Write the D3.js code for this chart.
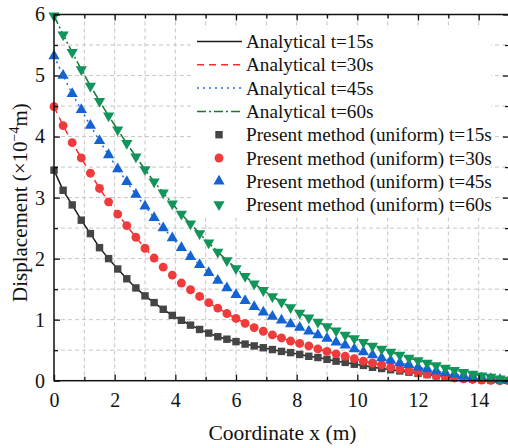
<!DOCTYPE html>
<html>
<head>
<meta charset="utf-8">
<script src="https://cdn.jsdelivr.net/npm/d3@7"></script>
<style>
  html, body { margin: 0; padding: 0; background: #fff; }
  svg { display: block; font-family: "Liberation Serif", "Times New Roman", serif; }
</style>
</head>
<body>
<svg id="chart" width="508" height="448"></svg>
<script>
// Sampling positions along the bar (m)
const xs = d3.range(51).map(i => +(i * 0.3).toFixed(1));

// Displacement (×10^-4 m) at each position, one array per time
const disp15 = [3.45, 3.12, 2.88, 2.63, 2.41, 2.18, 2.00, 1.83, 1.67, 1.52,
                1.39, 1.28, 1.17, 1.07, 0.99, 0.91, 0.84, 0.78, 0.72, 0.68,
                0.64, 0.60, 0.57, 0.54, 0.51, 0.48, 0.46, 0.43, 0.40, 0.38,
                0.35, 0.32, 0.30, 0.27, 0.25, 0.22, 0.20, 0.18, 0.16, 0.14,
                0.12, 0.10, 0.08, 0.065, 0.05, 0.04, 0.03, 0.02, 0.01, 0.005, 0];
const disp30 = [4.49, 4.18, 3.90, 3.65, 3.40, 3.15, 2.93, 2.73, 2.54, 2.35,
                2.17, 2.01, 1.86, 1.73, 1.60, 1.49, 1.38, 1.28, 1.19, 1.10,
                1.02, 0.94, 0.87, 0.81, 0.75, 0.70, 0.65, 0.61, 0.57, 0.52,
                0.48, 0.44, 0.40, 0.36, 0.32, 0.29, 0.26, 0.22, 0.19, 0.16,
                0.13, 0.11, 0.085, 0.065, 0.045, 0.03, 0.02, 0.01, 0.005, 0, 0];
const disp45 = [5.32, 5.00, 4.70, 4.44, 4.18, 3.93, 3.70, 3.47, 3.26, 3.05,
                2.86, 2.67, 2.50, 2.34, 2.18, 2.03, 1.90, 1.77, 1.64, 1.52,
                1.41, 1.31, 1.21, 1.12, 1.05, 0.99, 0.93, 0.87, 0.81, 0.75,
                0.69, 0.63, 0.58, 0.52, 0.47, 0.42, 0.37, 0.33, 0.29, 0.26,
                0.22, 0.19, 0.16, 0.13, 0.105, 0.08, 0.06, 0.045, 0.03, 0.015, 0];
const disp60 = [5.98, 5.67, 5.38, 5.10, 4.83, 4.58, 4.34, 4.11, 3.89, 3.67,
                3.46, 3.26, 3.08, 2.90, 2.73, 2.57, 2.41, 2.26, 2.11, 1.97,
                1.84, 1.71, 1.59, 1.48, 1.38, 1.29, 1.20, 1.11, 1.03, 0.96,
                0.89, 0.82, 0.75, 0.69, 0.63, 0.57, 0.52, 0.47, 0.42, 0.37,
                0.33, 0.29, 0.25, 0.21, 0.17, 0.14, 0.11, 0.08, 0.06, 0.03, 0.01];

const times = ["15", "30", "45", "60"];
const xTicks = [0, 2, 4, 6, 8, 10, 12, 14];
const yTicks = [0, 1, 2, 3, 4, 5, 6];

const seriesValues = [disp15, disp30, disp45, disp60];
const lineColors = ["#1a1a1a", "#ff2a2a", "#1f6fe6", "#137a2e"];
const lineDash = [null, "7,5", "2,4", "9,3,2,3"];
const markColors = ["#454545", "#ef3b3b", "#1463d2", "#12955a"];
const markShapes = [d3.symbolSquare, d3.symbolCircle, d3.symbolTriangle, d3.symbolTriangle];
const markSizes = [55, 62, 55, 55];
const markRotate = [0, 0, 0, 180];

const svg = d3.select("#chart");
const L = 54, R = 509, T = 14.5, B = 380.7;

const x = d3.scaleLinear().domain([0, 15]).range([L, R]);
const y = d3.scaleLinear().domain([0, 6]).range([B, T]);

// Dashed grid: every 1 m horizontally, every 0.5 vertically
const grid = svg.append("g").attr("stroke", "#c6c6c6").attr("stroke-width", 1)
  .attr("stroke-dasharray", "4,3");
grid.selectAll("line.gx").data(d3.range(1, 15)).join("line")
  .attr("x1", d => x(d)).attr("x2", d => x(d)).attr("y1", T).attr("y2", B);
grid.selectAll("line.gy").data(d3.range(0.5, 6, 0.5)).join("line")
  .attr("y1", d => y(d)).attr("y2", d => y(d)).attr("x1", L).attr("x2", R);

// Analytical curves
seriesValues.forEach((vals, i) => {
  svg.append("path")
    .datum(xs.map((xv, k) => [xv, vals[k]]))
    .attr("fill", "none")
    .attr("stroke", lineColors[i])
    .attr("stroke-width", 1.5)
    .attr("stroke-dasharray", lineDash[i])
    .attr("d", d3.line().x(d => x(d[0])).y(d => y(d[1])));
});

// Numerical results as markers
seriesValues.forEach((vals, i) => {
  const sym = d3.symbol().type(markShapes[i]).size(markSizes[i]);
  svg.append("g").selectAll("path").data(xs.map((xv, k) => [xv, vals[k]])).join("path")
    .attr("d", sym)
    .attr("fill", markColors[i])
    .attr("transform", d => `translate(${x(d[0])},${y(d[1])}) rotate(${markRotate[i]})`);
});

// Axes with inward ticks on all four sides
const axisStyle = g => {
  g.select(".domain").remove();
  g.selectAll("text").attr("font-size", 20).attr("fill", "#111")
    .attr("font-family", "Liberation Serif, Times New Roman, serif");
  g.selectAll("line").attr("stroke", "#111").attr("stroke-width", 1.3);
};
const minorX = d3.range(1, 15, 2);
const minorY = d3.range(0.5, 6, 1);
// bottom
svg.append("g").attr("transform", `translate(0,${B})`)
  .call(d3.axisBottom(x).tickValues(xTicks).tickSize(-6).tickPadding(12).tickFormat(d3.format("d")))
  .call(axisStyle);
svg.append("g").attr("transform", `translate(0,${B})`)
  .call(d3.axisBottom(x).tickValues(minorX).tickSize(-4).tickFormat(""))
  .call(axisStyle);
// top
svg.append("g").attr("transform", `translate(0,${T})`)
  .call(d3.axisTop(x).tickValues(xTicks).tickSize(-6).tickFormat(""))
  .call(axisStyle);
svg.append("g").attr("transform", `translate(0,${T})`)
  .call(d3.axisTop(x).tickValues(minorX).tickSize(-4).tickFormat(""))
  .call(axisStyle);
// left
svg.append("g").attr("transform", `translate(${L},0)`)
  .call(d3.axisLeft(y).tickValues(yTicks).tickSize(-6).tickPadding(9).tickFormat(d3.format("d")))
  .call(axisStyle);
svg.append("g").attr("transform", `translate(${L},0)`)
  .call(d3.axisLeft(y).tickValues(minorY).tickSize(-4).tickFormat(""))
  .call(axisStyle);
// right
svg.append("g").attr("transform", `translate(${R},0)`)
  .call(d3.axisRight(y).tickValues(yTicks).tickSize(-6).tickFormat(""))
  .call(axisStyle);
svg.append("g").attr("transform", `translate(${R},0)`)
  .call(d3.axisRight(y).tickValues(minorY).tickSize(-4).tickFormat(""))
  .call(axisStyle);

// Frame
svg.append("rect").attr("x", L).attr("y", T).attr("width", R - L).attr("height", B - T)
  .attr("fill", "none").attr("stroke", "#111").attr("stroke-width", 1.5);

// Axis titles
svg.append("text").attr("x", (L + R) / 2 + 1).attr("y", 440)
  .attr("text-anchor", "middle").attr("font-size", 21.5).attr("fill", "#111")
  .text("Coordinate x (m)");
const yt = svg.append("text")
  .attr("transform", `translate(27,${(T + B) / 2 + 5}) rotate(-90)`)
  .attr("text-anchor", "middle").attr("font-size", 21).attr("fill", "#111");
yt.append("tspan").text("Displacement (×10");
yt.append("tspan").attr("dy", -8).attr("font-size", 14).text("−4");
yt.append("tspan").attr("dy", 8).text("m)");

// Legend
const legend = svg.append("g");
legend.append("rect").attr("x", 193).attr("y", 29).attr("width", 298).attr("height", 187)
  .attr("fill", "#fff");
const rowY = i => 41.5 + i * 23.3;
const labels = times.map(t => `Analytical t=${t}s`)
  .concat(times.map(t => `Present method (uniform) t=${t}s`));
labels.forEach((lab, j) => {
  const yy = rowY(j);
  if (j < 4) {
    legend.append("line").attr("x1", 197).attr("x2", 242).attr("y1", yy).attr("y2", yy)
      .attr("stroke", lineColors[j]).attr("stroke-width", 1.5)
      .attr("stroke-dasharray", lineDash[j]);
  } else {
    const i = j - 4;
    legend.append("path")
      .attr("d", d3.symbol().type(markShapes[i]).size(markSizes[i]))
      .attr("fill", markColors[i])
      .attr("transform", `translate(219,${yy}) rotate(${markRotate[i]})`);
  }
  legend.append("text").attr("x", 246).attr("y", yy + 6.5)
    .attr("font-size", 19.2).attr("fill", "#111").text(lab);
});
</script>
</body>
</html>
